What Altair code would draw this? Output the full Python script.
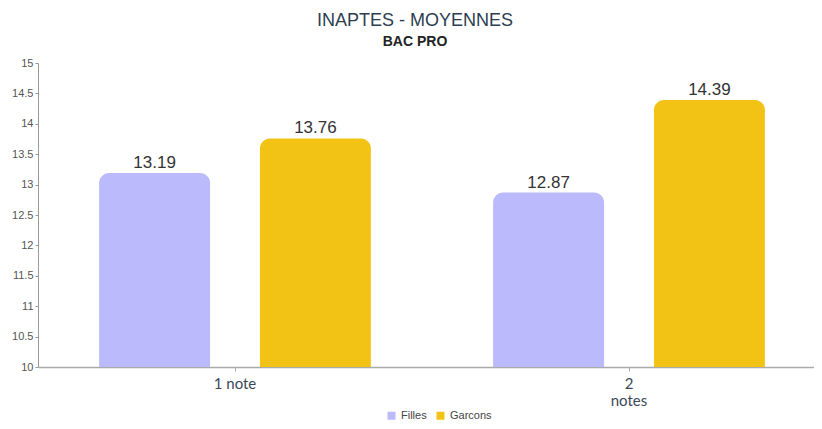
import altair as alt
import pandas as pd

categories = ["1 note", "2 notes"]
series = ["Filles", "Garcons"]
filles = [13.19, 12.87]
garcons = [13.76, 14.39]
colors = ["#babafc", "#f2c314"]

rows = []
for i, c in enumerate(categories):
    rows.append({"cat": c, "serie": "Filles", "val": filles[i]})
    rows.append({"cat": c, "serie": "Garcons", "val": garcons[i]})
df = pd.DataFrame(rows)

base = alt.Chart(df).encode(
    x=alt.X(
        "cat:N",
        sort=categories,
        scale=alt.Scale(range=[0, 788], paddingInner=0, paddingOuter=0),
        axis=alt.Axis(
            title=None,
            labelAngle=0,
            labelFont="Lato",
            labelFontSize=15,
            labelColor="#3c4858",
            labelLineHeight=17,
            labelExpr="datum.value == '2 notes' ? ['2', 'notes'] : datum.value",
            tickSize=4,
            tickColor="#aaa",
            domainColor="#aaa",
            domainWidth=1.5,
            labelPadding=5,
        ),
    ),
    xOffset=alt.XOffset(
        "serie:N", sort=series, scale=alt.Scale(paddingInner=0.31, paddingOuter=0.38)
    ),
    y=alt.Y(
        "val:Q",
        scale=alt.Scale(domain=[10, 15], nice=False, zero=False),
        axis=alt.Axis(
            title=None,
            values=[10, 10.5, 11, 11.5, 12, 12.5, 13, 13.5, 14, 14.5, 15],
            format="~g",
            grid=False,
            labelFont="Liberation Sans",
            labelFontSize=11,
            labelColor="#555",
            tickSize=3,
            tickColor="#999",
            domainColor="#999",
            labelPadding=2,
        ),
    ),
)

bars = base.mark_bar(cornerRadiusTopLeft=10, cornerRadiusTopRight=10).encode(
    y2=alt.Y2Datum(10),
    color=alt.Color(
        "serie:N",
        sort=series,
        scale=alt.Scale(domain=series, range=colors),
        legend=alt.Legend(
            title=None,
            orient="none",
            legendX=348,
            legendY=347,
            direction="horizontal",
            symbolType="square",
            symbolSize=64,
            symbolStrokeWidth=0,
            labelFont="Liberation Sans",
            labelFontSize=11,
            labelColor="#444",
            columnPadding=8,
        ),
    ),
)

text = base.mark_text(
    baseline="bottom", dy=-1, fontSize=17, color="#333", font="Liberation Sans"
).encode(text=alt.Text("val:Q", format=".2f"))

chart = (
    alt.layer(bars, text)
    .properties(
        width=776,
        height=304,
        autosize=alt.AutoSizeParams(type="none"),
        padding={"left": 30, "top": 55, "right": 0, "bottom": 53},
        title=alt.Title(
            "INAPTES - MOYENNES",
            subtitle="BAC PRO",
            font="Liberation Sans",
            fontSize=18,
            fontWeight="normal",
            color="#2c3e50",
            subtitleFont="Liberation Sans",
            subtitleFontSize=14,
            subtitleFontWeight="bold",
            subtitleColor="#222",
            subtitlePadding=5,
            anchor="middle",
            dx=-11,
            offset=8,
        ),
    )
    .configure_view(stroke=None)
)

chart.save("out.html", embed_options={"renderer": "svg", "actions": False})
